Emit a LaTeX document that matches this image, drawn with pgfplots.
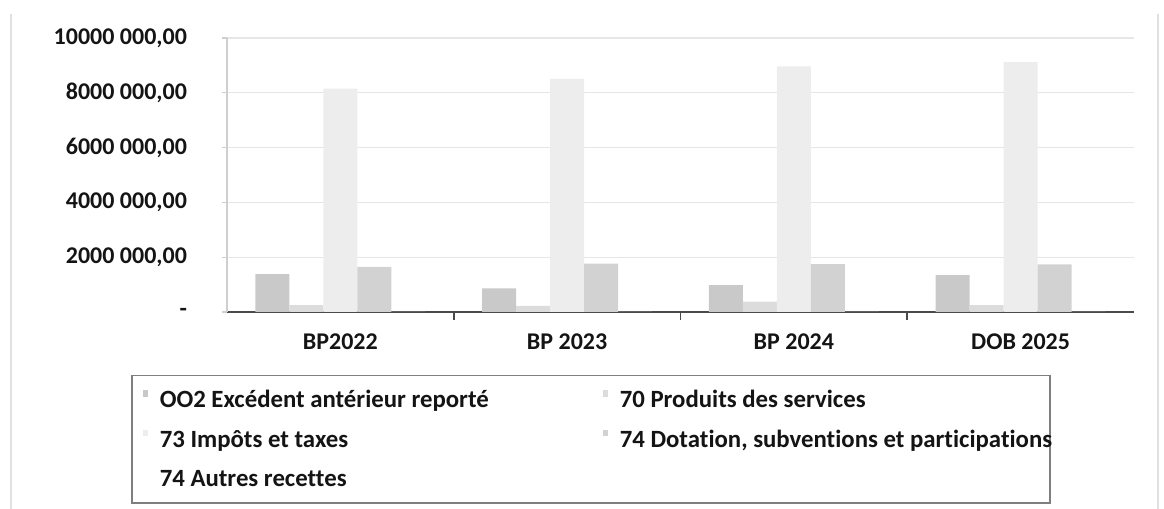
\documentclass[border=0pt]{standalone}
\usepackage{pgfplots}
\pgfplotsset{compat=1.18}
\usepackage{fontspec}
\setmainfont{Carlito}[Ligatures={NoCommon}]
\definecolor{cA}{HTML}{C9C9C9}
\definecolor{cB}{HTML}{DCDCDC}
\definecolor{cC}{HTML}{EDEDED}
\definecolor{cD}{HTML}{D2D2D2}
\definecolor{cE}{HTML}{FFFFFF}
\definecolor{gridc}{HTML}{E6E6E6}
\definecolor{yax}{HTML}{CFCFCF}
\definecolor{xax}{HTML}{4A4A4A}
\definecolor{framec}{HTML}{E0E0E0}
\definecolor{legb}{HTML}{7F7F7F}
\newcommand\lbl{\fontsize{12}{14}\selectfont\bfseries}
\newcommand\leglbl{\fontsize{12.4}{14}\selectfont\bfseries}
\pgfplotsset{
  mybar/.style={fill=#1, draw=none,
    legend image code/.code={\path[draw=none,fill=none] (-5.5pt,0) rectangle (8.5pt,0.1pt);
      \fill[fill=#1,draw=none] (0pt,1.5pt) rectangle (2.6pt,4.7pt);}},
}
\begin{document}
\begin{tikzpicture}
\path[use as bounding box] (0,0) rectangle (582pt,254.5pt);
\draw[framec, line width=0.8pt] (5.5pt,0) -- (5.5pt,247.5pt);
\draw[framec, line width=0.8pt] (579pt,0) -- (579pt,247.5pt);
\begin{axis}[
  at={(113.5pt,98.5pt)}, anchor=south west,
  width=453.5pt, height=137pt, scale only axis,
  xmin=-0.5, xmax=3.5, ymin=0, ymax=10000000,
  ybar=0pt, bar width=17pt,
  xtick={0,1,2,3},
  xticklabels={BP2022, BP 2023, BP 2024, DOB 2025},
  minor xtick={0.5,1.5,2.5},
  ytick={0,2000000,4000000,6000000,8000000,10000000},
  scaled y ticks=false,
  yticklabels={{-\hspace{5pt}},{2000 000,00},{4000 000,00},{6000 000,00},{8000 000,00},{10000 000,00}},
  axis x line*=bottom, axis y line*=left,
  x axis line style={xax, line width=0.9pt},
  y axis line style={yax, line width=0.6pt},
  tick align=outside,
  major tick length=2.5pt, minor tick length=4pt,
  major x tick style={draw=none},
  minor x tick style={xax, line width=0.8pt},
  y tick style={yax, line width=0.6pt},
  ymajorgrids, major grid style={gridc, line width=0.6pt},
  tick label style={font=\lbl, text=black!92},
  yticklabel style={xshift=-14pt},
  xticklabel style={yshift=-4.6pt},
  legend columns=2,
  legend cell align=left,
  legend style={at={(-0.1058,-0.2299)}, anchor=north west,
    draw=legb, line width=0.75pt, inner xsep=0pt, inner ysep=7pt,
    row sep=10pt, column sep=0pt, font=\leglbl, text=black!92,
    nodes={inner sep=0pt, text height=8.8pt, text depth=1.1pt}},
]
\addplot[mybar=cA] coordinates {(0,1380000) (1,860000) (2,980000) (3,1350000)};
\addlegendentry{\makebox[216pt][l]{OO2 Excédent antérieur reporté}}
\addplot[mybar=cB] coordinates {(0,250000) (1,220000) (2,380000) (3,250000)};
\addlegendentry{\makebox[215pt][l]{70 Produits des services}}
\addplot[mybar=cC] coordinates {(0,8150000) (1,8510000) (2,8960000) (3,9120000)};
\addlegendentry{\makebox[216pt][l]{73 Impôts et taxes}}
\addplot[mybar=cD] coordinates {(0,1650000) (1,1770000) (2,1750000) (3,1740000)};
\addlegendentry{\makebox[215pt][l]{74 Dotation, subventions et participations}}
\addplot[mybar=cE] coordinates {(0,0) (1,0) (2,0) (3,0)};
\addlegendentry{\makebox[216pt][l]{74 Autres recettes}}
\end{axis}
\end{tikzpicture}
\end{document}
